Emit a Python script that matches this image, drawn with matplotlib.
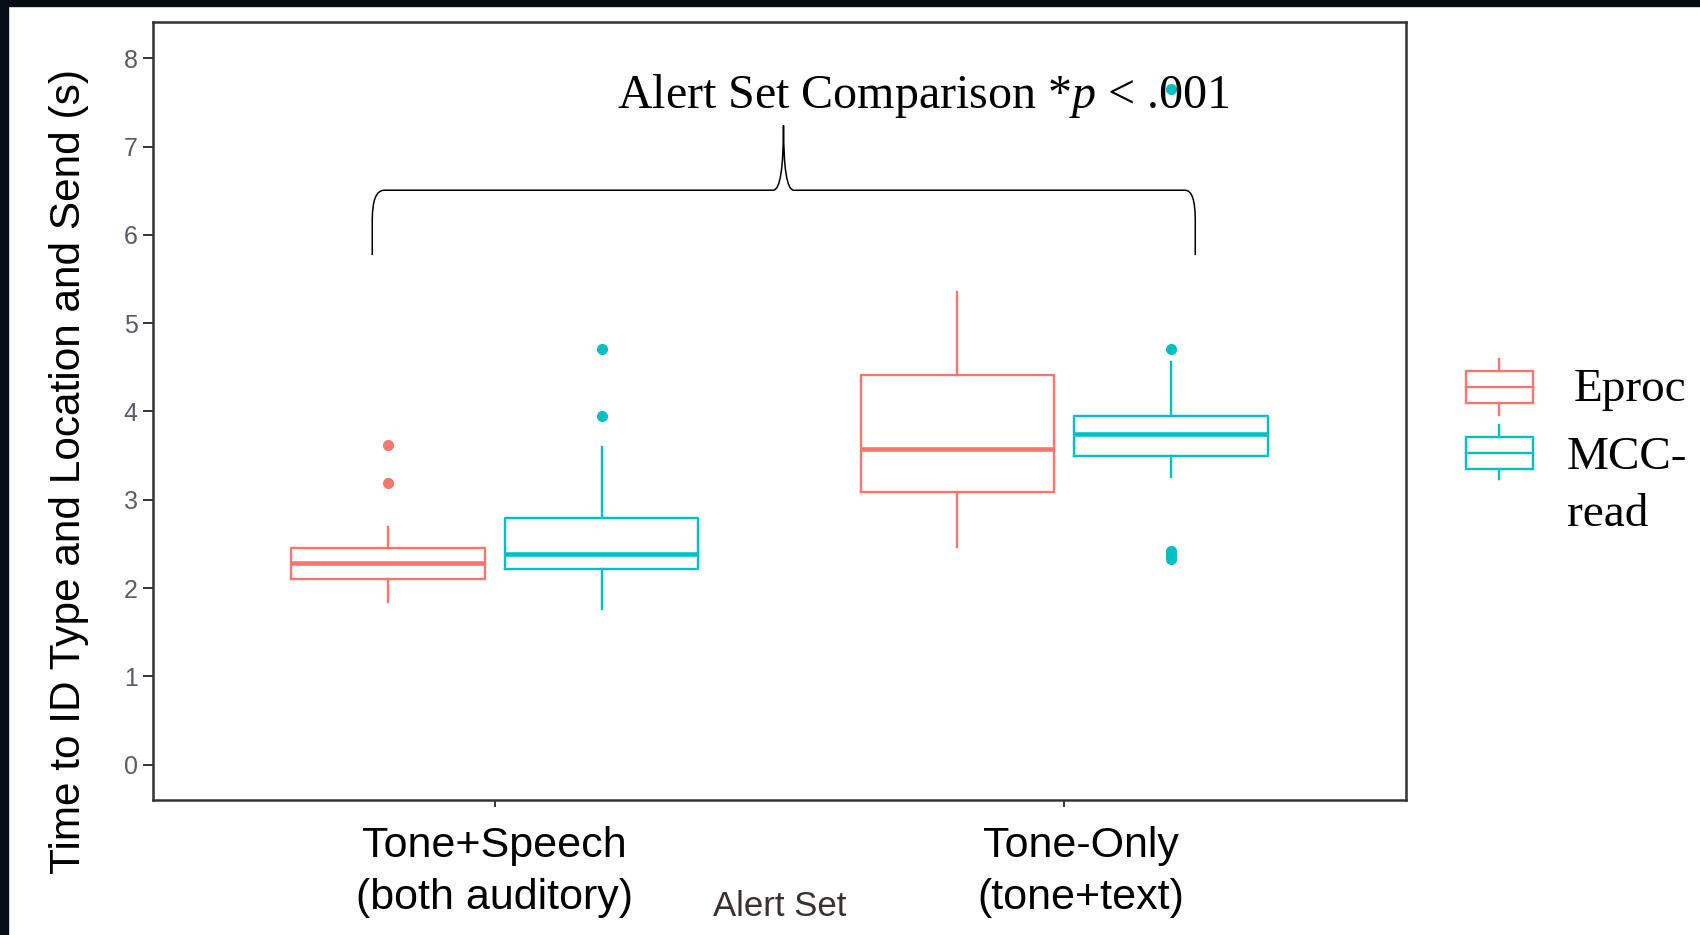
import matplotlib
matplotlib.use("Agg")
import matplotlib.pyplot as plt
from matplotlib.path import Path
from matplotlib.patches import PathPatch, Rectangle
from matplotlib.lines import Line2D
import matplotlib.transforms as mtransforms

plt.rcParams['mathtext.fontset'] = 'custom'
plt.rcParams['mathtext.rm'] = 'Liberation Serif'
plt.rcParams['mathtext.it'] = 'Liberation Serif:italic'

# ---------------- data ----------------
categories = ["Tone+Speech\n(both auditory)", "Tone-Only\n(tone+text)"]
groups = ["Eproc", "MCC-\nread"]
colors = {"Eproc": "#F8766D", "MCC-\nread": "#00BFC4"}

# five-number summaries: [whislo, q1, med, q3, whishi]
eproc_stats = [[1.84, 2.10, 2.28, 2.45, 2.69],
               [2.47, 3.09, 3.58, 4.41, 5.35]]
mcc_stats = [[1.76, 2.22, 2.39, 2.79, 3.60],
             [3.26, 3.49, 3.74, 3.95, 4.56]]
eproc_outliers = [[3.19, 3.62], []]
mcc_outliers = [[3.95, 4.71], [2.33, 2.38, 2.42, 4.71, 7.65]]

yticks = [0, 1, 2, 3, 4, 5, 6, 7, 8]
title_text = r"Alert Set Comparison *$p$ < .001"
xlabel = "Alert Set"
ylabel = "Time to ID Type and Location and Send (s)"

# ---------------- figure ----------------
W, H = 1700, 935
fig = plt.figure(figsize=(W / 100, H / 100), dpi=100)
fig.patch.set_facecolor("white")
fig.patches.append(Rectangle((0, 1 - 6 / H), 1, 6 / H, transform=fig.transFigure,
                             color="#070d16", zorder=10))
fig.patches.append(Rectangle((0, 0), 8 / W, 1, transform=fig.transFigure,
                             color="#070d16", zorder=10))

ax = fig.add_axes([153 / W, 1 - 800 / H, (1406 - 153) / W, (800 - 22) / H])
ax.set_xlim(0.4, 2.6)
ax.set_ylim(-0.40, 8.41)

dodge = 0.1875
bw = 0.34


def make_stats(s, fl):
    return dict(whislo=s[0], q1=s[1], med=s[2], q3=s[3], whishi=s[4], fliers=fl)


for gi, (stats, outs, g) in enumerate([(eproc_stats, eproc_outliers, "Eproc"),
                                        (mcc_stats, mcc_outliers, "MCC-\nread")]):
    c = colors[g]
    bxs = [make_stats(s, o) for s, o in zip(stats, outs)]
    pos = [i + 1 + (dodge if gi == 1 else -dodge) for i in range(len(categories))]
    ax.bxp(bxs, positions=pos, widths=bw, showcaps=False, patch_artist=False,
           boxprops=dict(color=c, linewidth=1.7),
           whiskerprops=dict(color=c, linewidth=1.7),
           medianprops=dict(color=c, linewidth=3.3),
           flierprops=dict(marker="o", markerfacecolor=c, markeredgecolor=c,
                           markersize=7, linestyle="none"))

# axes styling
for sp in ax.spines.values():
    sp.set_color("#333333")
    sp.set_linewidth(1.8)
ax.set_yticks(yticks)
ax.set_yticklabels([str(t) for t in yticks], fontsize=18, color="#5a5a68",
                   family=["Liberation Sans", "DejaVu Sans"])
ax.tick_params(axis="y", length=7, width=1.4, color="#333333", pad=4)
ax.set_xticks([1, 2])
ax.set_xticklabels([])
ax.tick_params(axis="x", length=5, width=1.4, color="#333333")

sans = ["Liberation Sans", "DejaVu Sans"]
offsets = [0, 17]
for i, lab in enumerate(categories):
    tr = mtransforms.blended_transform_factory(ax.transData, fig.transFigure)
    tr = tr + mtransforms.ScaledTranslation(offsets[i] / 100, 0, fig.dpi_scale_trans)
    ax.text(i + 1, 1 - 872 / H, lab, transform=tr, ha="center", va="center",
            fontsize=31, family=sans, linespacing=1.38, color="black")

fig.text(780 / W, 1 - 906 / H, xlabel, ha="center", va="center", fontsize=25,
         family=sans, color="#3a3030")
fig.text(69 / W, 1 - 471 / H, ylabel, ha="center", va="center", rotation=90,
         fontsize=30.5, family=sans, color="black")

# title annotation
fig.text(617 / W, 1 - 108 / H, title_text, ha="left", va="baseline", fontsize=34.6,
         family=["Liberation Serif", "DejaVu Serif"], color="black")

# curly brace (annotation in data coordinates)
xl, xr, xm = 0.785, 2.230, 1.507
yb, yh, yp = 5.77, 6.505, 7.24
dx = 0.018
verts = [(xl, yb), (xl, 6.17), (xl, yh), (xl + 0.021, yh),
         (xm - dx, yh), (xm, yh), (xm, yp),
         (xm, yh), (xm + dx, yh),
         (xr - dx, yh), (xr, yh), (xr, 6.17), (xr, yb)]
codes = [Path.MOVETO, Path.LINETO, Path.CURVE3, Path.CURVE3,
         Path.LINETO, Path.CURVE3, Path.CURVE3,
         Path.CURVE3, Path.CURVE3,
         Path.LINETO, Path.CURVE3, Path.CURVE3, Path.LINETO]
ax.add_patch(PathPatch(Path(verts, codes), facecolor="none", edgecolor="black",
                       linewidth=1.1, clip_on=False))

# legend (keys + text)
lax = fig.add_axes([0, 0, 1, 1], facecolor="none")
lax.set_xlim(0, W)
lax.set_ylim(H, 0)
lax.axis("off")
key_y = [(371, 403, 359, 415), (437, 469, 425, 479)]
for (top, bot, wt, wb), g in zip(key_y, groups):
    c = colors[g]
    lax.add_patch(Rectangle((1466, top), 1533 - 1466, bot - top, fill=False,
                            edgecolor=c, linewidth=1.7))
    mid = (top + bot) / 2
    lax.add_line(Line2D([1466, 1533], [mid, mid], color=c, linewidth=1.7))
    lax.add_line(Line2D([1499.5, 1499.5], [wt, top], color=c, linewidth=1.7))
    lax.add_line(Line2D([1499.5, 1499.5], [bot, wb], color=c, linewidth=1.7))

serif = ["Liberation Serif", "DejaVu Serif"]
lax.text(1574, 401, "Eproc", ha="left", va="baseline", fontsize=34, family=serif)
lax.text(1567, 469, "MCC-", ha="left", va="baseline", fontsize=34, family=serif)
lax.text(1567, 526, "read", ha="left", va="baseline", fontsize=34, family=serif)

fig.savefig("out.png", dpi=100)
